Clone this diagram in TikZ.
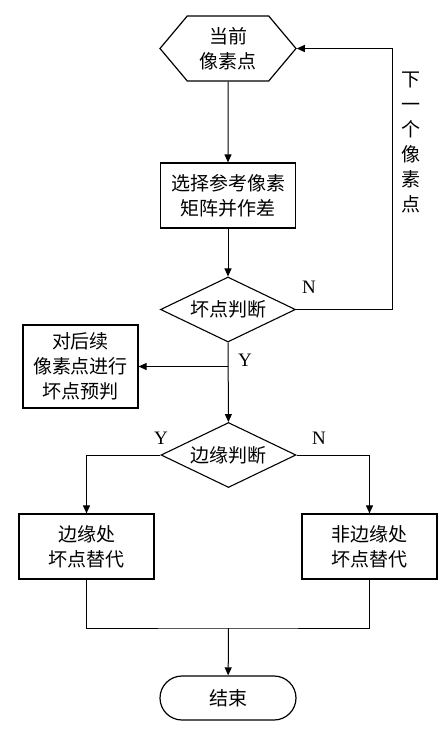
\documentclass[tikz,border=0pt]{standalone}
\usepackage{fontspec}
\setmainfont{Liberation Serif}
\newfontfamily\cjk{Noto Sans CJK SC}
\usetikzlibrary{shapes.geometric,shapes.misc,shapes.symbols,arrows.meta}
\begin{document}
\begin{tikzpicture}[x=1pt, y=-1pt, >={Triangle[length=8pt,width=7pt]},
    every node/.style={font=\cjk\fontsize{19}{25}\selectfont, align=center, inner sep=0pt}]
        \tikzstyle{act} = [rectangle, draw, line width=1.2pt, minimum width=135pt, minimum height=65pt]
        \tikzstyle{dec} = [diamond, draw, line width=1.1pt, aspect=2.1, minimum width=135pt, minimum height=65pt]
        \tikzstyle{lbl} = [font=\fontsize{19}{19}\selectfont]
        \tikzstyle{ln} = [line width=1pt]
        \useasboundingbox (0,0) rectangle (444,729);
        \node [signal, signal to=east and west, signal pointer angle=100, draw, line width=1.2pt, minimum width=136pt, minimum height=65pt] (cur) at (228,48.5) {当前\\像素点};
        \node [act] (sel) at (228,195.5) {选择参考像素\\矩阵并作差};
        \node [dec] (bad) at (228,309.5) {坏点判断};
        \node [act, minimum width=115pt, minimum height=83pt] (pre) at (80.5,366.5) {对后续\\像素点进行\\坏点预判};
        \node [dec] (edg) at (228.5,455) {边缘判断};
        \node [act] (ebx) at (86.5,546.5) {边缘处\\坏点替代};
        \node [act] (nbx) at (369.5,546.5) {非边缘处\\坏点替代};
        \node [rounded rectangle, draw, line width=1.2pt, minimum width=136pt, minimum height=44pt] (fin) at (228,698) {结束};
        \node (nxt) at (411,142.5) {下\\一\\个\\像\\素\\点};
        \node [lbl] (n1) at (309,287) {N};
        \node [lbl] (y1) at (245,360) {Y};
        \node [lbl] (y2) at (161,438) {Y};
        \node [lbl] (n2) at (319,438) {N};
        \coordinate (mg) at (228.5,628);
        \draw [ln,->] (cur) -- (sel); \draw [ln,->] (sel) -- (bad); \draw [ln,->] (bad) -- (edg);
        \draw [ln,->] (bad.east) -- ++(96,0) |- (cur.east);
        \draw [ln,->] (bad.south |- pre.east) -- (pre.east);
        \draw [ln,->] (edg.west) -| (ebx.north); \draw [ln,->] (edg.east) -| (nbx.north);
        \draw [ln] (ebx.south) |- (mg) -| (nbx.south);
        \draw [ln,->] (mg) -- (fin);
    \end{tikzpicture}
\end{document}
